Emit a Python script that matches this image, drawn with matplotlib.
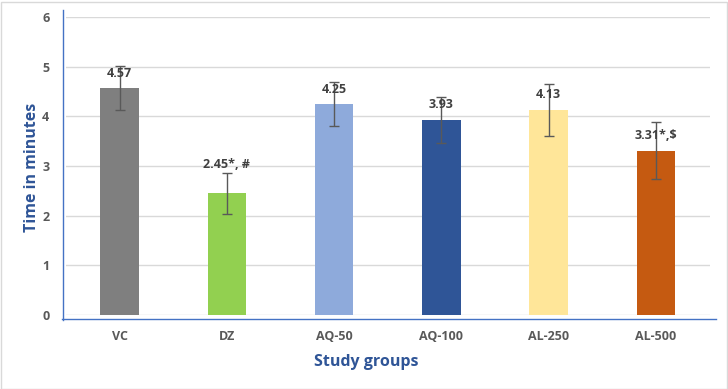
import matplotlib
matplotlib.use("Agg")
import matplotlib.pyplot as plt
from matplotlib.lines import Line2D
from matplotlib.patches import Rectangle

groups = ["VC", "DZ", "AQ-50", "AQ-100", "AL-250", "AL-500"]
means = [4.57, 2.45, 4.25, 3.93, 4.13, 3.31]
errors = [0.45, 0.41, 0.44, 0.46, 0.53, 0.58]
labels = ["4.57", "2.45*, #", "4.25", "3.93", "4.13", "3.31*,$"]
colors = ["#7f7f7f", "#92d050", "#8eaadb", "#2f5597", "#ffe699", "#c55a11"]
yticks = [0, 1, 2, 3, 4, 5, 6]

plt.rcParams['font.family'] = ['Open Sans', 'DejaVu Sans']

fig = plt.figure(figsize=(7.28, 3.89), dpi=100)
ax = fig.add_axes([66/728, 1-315/389, (709.6-66)/728, (315-17)/389])

x = list(range(len(groups)))
ax.bar(x, means, width=0.36, color=colors, zorder=2)
ax.errorbar(x, means, yerr=errors, fmt='none', ecolor='#595959', elinewidth=1,
            capsize=3.5, capthick=1, zorder=3)

for i, (m, e, lab) in enumerate(zip(means, errors, labels)):
    off = 0.59 if i == 1 else 0.3
    ax.text(i, m + off, lab, ha='center', va='center', fontsize=9,
            fontweight='bold', color='#404040', zorder=4)

ax.set_xlim(-0.5, 5.5)
ax.set_ylim(0, 6)
ax.set_yticks(yticks)
ax.set_xticks(x)
ax.set_xticklabels(groups)
ax.yaxis.grid(True, color='#d9d9d9', lw=1, zorder=0)
ax.set_axisbelow(True)
for s in ax.spines.values():
    s.set_visible(False)
ax.tick_params(axis='both', length=0, labelsize=9, labelcolor='#595959')
for t in ax.get_xticklabels() + ax.get_yticklabels():
    t.set_fontweight('bold')
ax.tick_params(axis='x', pad=11)
ax.tick_params(axis='y', pad=12)

fig.text(366/728, 1-362/389, "Study groups", ha='center', va='center',
         fontsize=11.5, fontweight='bold', color='#2f5597')
fig.text(32/728, 1-167/389, "Time in minutes", ha='center', va='center',
         rotation=90, fontsize=11.5, fontweight='bold', color='#2f5597')

# blue axis lines
fig.add_artist(Line2D([63/728, 63/728], [1-10/389, 1-320/389], color='#4472c4', lw=1,
                      transform=fig.transFigure))
fig.add_artist(Line2D([62/728, 716/728], [1-318.5/389, 1-318.5/389], color='#4472c4', lw=1,
                      transform=fig.transFigure))
# chart border
fig.add_artist(Rectangle((0.5/728, 0.5/389), 726/728, 387/389, fill=False,
                         edgecolor='#d9d9d9', lw=1, transform=fig.transFigure))

fig.savefig("out.png", dpi=100)
